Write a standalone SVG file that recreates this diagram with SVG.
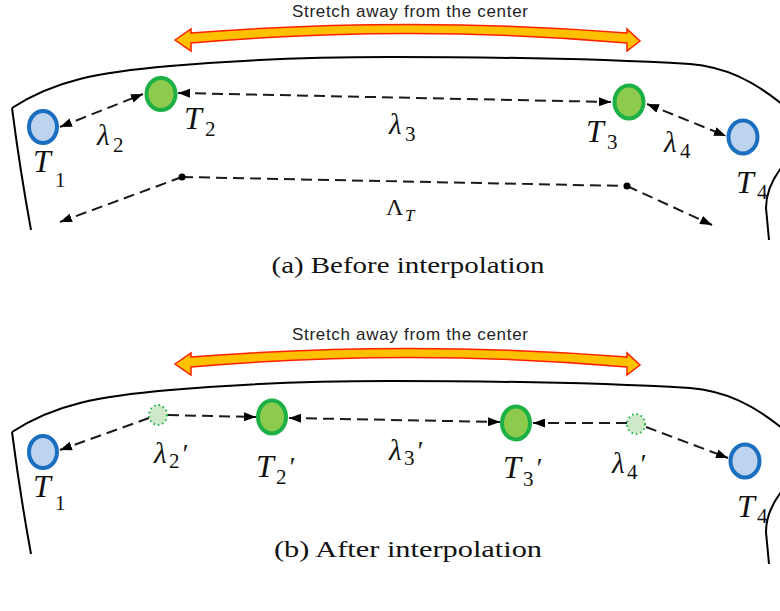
<svg xmlns="http://www.w3.org/2000/svg" width="780" height="611" viewBox="0 0 780 611">
<style>
.outline{fill:none;stroke:#000;stroke-width:2}
.dash{fill:none;stroke:#1a1a1a;stroke-width:2;stroke-dasharray:11 6}
.blue{fill:#bdd3ee;stroke:#1a6fc0;stroke-width:4}
.green{fill:#8dcb4e;stroke:#1db044;stroke-width:4}
.ghost{fill:#cfe8c8;stroke:#1db044;stroke-width:2;stroke-dasharray:1.5 3}
.stretch{fill:#ffc000;stroke:#ff2000;stroke-width:1.5}
.m{font-family:"Liberation Serif",serif;font-style:italic;fill:#111}
.big{font-size:32px}
.lam{font-size:29px}
.sub{font-family:"Liberation Serif",serif;font-style:normal;font-size:21px;fill:#111}
.pr{font-family:"Liberation Serif",serif;font-style:italic;font-size:27px;fill:#111}
.cap{font-family:"Liberation Serif",serif;font-size:24px;fill:#111}
.st{font-family:"Liberation Sans",sans-serif;font-size:17px;fill:#222}
</style>
<defs>
<marker id="ah" viewBox="0 0 12 9" refX="12" refY="4.5" markerWidth="12" markerHeight="9" markerUnits="userSpaceOnUse" orient="auto-start-reverse">
<path d="M0,0 L12,4.5 L0,9 z" fill="#000"/>
</marker>
</defs>

<!-- ===== Panel (a) ===== -->
<g id="panel-a">
<g id="stretch-a">
<text class="st" x="410" y="17" text-anchor="middle" textLength="236">Stretch away from the center</text>
<path class="stretch" d="M175,40 L191,29 L191,33 Q410,16 627,33 L627,29 L640,41 L627,51 L627,43 Q410,24 191,43 L191,51 Z"/>
</g>
<g id="outline-a">
<path class="outline" d="M12,108 C55,80 100,72 170,66 C260,58 330,57 390,57 C500,57 620,60 690,64 C725,67 752,80 782,104"/>
<path class="outline" d="M12,108 Q20,170 31,230"/>
<path class="outline" d="M781,168 C772,180 766,192 766,208 L769,240"/>
</g>
<g id="connectors-a">
<line class="dash" x1="60" y1="127" x2="143" y2="94" marker-start="url(#ah)" marker-end="url(#ah)"/>
<line class="dash" x1="178" y1="93" x2="611" y2="102" marker-start="url(#ah)" marker-end="url(#ah)"/>
<line class="dash" x1="647" y1="104" x2="726" y2="136" marker-start="url(#ah)" marker-end="url(#ah)"/>
<line class="dash" x1="182" y1="177" x2="60" y2="222" marker-end="url(#ah)"/>
<line class="dash" x1="182" y1="177" x2="627" y2="186"/>
<line class="dash" x1="627" y1="186" x2="712" y2="225" marker-end="url(#ah)"/>
<circle cx="182" cy="177" r="3.5" fill="#000"/>
<circle cx="627" cy="186" r="3.5" fill="#000"/>
<text class="m" x="386" y="215" style="font-style:normal;font-size:24px">Λ</text>
<text class="m" x="405" y="221" style="font-size:17px">T</text>
<text class="m lam" x="97" y="145">λ</text><text class="sub" x="113" y="152">2</text>
<text class="m lam" x="389" y="134">λ</text><text class="sub" x="405" y="141">3</text>
<text class="m lam" x="664" y="152">λ</text><text class="sub" x="680" y="158">4</text>
</g>
<g id="T1-a"><ellipse class="blue" cx="43" cy="127" rx="14" ry="16"/>
<text class="m big" x="33" y="172">T</text><text class="sub" x="55" y="187">1</text></g>
<g id="T2-a"><ellipse class="green" cx="161" cy="94" rx="14.5" ry="16"/>
<text class="m big" x="184" y="129">T</text><text class="sub" x="205" y="136">2</text></g>
<g id="T3-a"><ellipse class="green" cx="629" cy="102" rx="14.5" ry="16.5"/>
<text class="m big" x="586" y="142">T</text><text class="sub" x="607" y="149">3</text></g>
<g id="T4-a"><ellipse class="blue" cx="743" cy="137" rx="14.5" ry="16.5"/>
<text class="m big" x="736" y="193">T</text><text class="sub" x="757" y="199">4</text></g>
<text class="cap" x="408" y="273" text-anchor="middle" textLength="273" lengthAdjust="spacingAndGlyphs">(a) Before interpolation</text>
</g>

<!-- ===== Panel (b) ===== -->
<g id="panel-b">
<g id="stretch-b" transform="translate(0,324)">
<text class="st" x="410" y="16" text-anchor="middle" textLength="236">Stretch away from the center</text>
<path class="stretch" d="M175,40 L191,29 L191,33 Q410,16 627,33 L627,29 L640,41 L627,51 L627,43 Q410,24 191,43 L191,51 Z"/>
</g>
<g id="outline-b" transform="translate(0,324)">
<path class="outline" d="M12,108 C55,80 100,72 170,66 C260,58 330,57 390,57 C500,57 620,60 690,64 C725,67 752,80 782,104"/>
<path class="outline" d="M12,108 Q20,170 31,230"/>
<path class="outline" d="M781,168 C772,180 766,192 766,208 L769,240"/>
</g>
<g id="connectors-b">
<line class="dash" x1="149" y1="418" x2="60" y2="450" marker-end="url(#ah)"/>
<line class="dash" x1="168" y1="415" x2="256" y2="417" marker-end="url(#ah)"/>
<line class="dash" x1="289" y1="418" x2="500" y2="422" marker-start="url(#ah)" marker-end="url(#ah)"/>
<line class="dash" x1="627" y1="423" x2="533" y2="423" marker-end="url(#ah)"/>
<line class="dash" x1="646" y1="427" x2="728" y2="458" marker-end="url(#ah)"/>
</g>
<g id="lam2p"><ellipse class="ghost" cx="158" cy="415" rx="9" ry="10"/>
<text class="m lam" x="154" y="463">λ</text><text class="sub" x="169" y="468">2</text><text class="pr" x="181" y="463">′</text></g>
<g id="lam3p">
<text class="m lam" x="389" y="460">λ</text><text class="sub" x="404" y="465">3</text><text class="pr" x="416" y="460">′</text></g>
<g id="lam4p"><ellipse class="ghost" cx="636" cy="424" rx="9" ry="10"/>
<text class="m lam" x="612" y="473">λ</text><text class="sub" x="627" y="479">4</text><text class="pr" x="639" y="473">′</text></g>
<g id="T1-b"><ellipse class="blue" cx="43" cy="452" rx="14" ry="16"/>
<text class="m big" x="33" y="497">T</text><text class="sub" x="55" y="510">1</text></g>
<g id="T2p"><ellipse class="green" cx="272" cy="417" rx="14" ry="16.5"/>
<text class="m big" x="256" y="477">T</text><text class="sub" x="276" y="484">2</text><text class="pr" x="288" y="476">′</text></g>
<g id="T3p"><ellipse class="green" cx="516" cy="423" rx="14" ry="16.5"/>
<text class="m big" x="503" y="478">T</text><text class="sub" x="523" y="486">3</text><text class="pr" x="535" y="477">′</text></g>
<g id="T4-b"><ellipse class="blue" cx="745" cy="461" rx="14.5" ry="16.5"/>
<text class="m big" x="737" y="517">T</text><text class="sub" x="757" y="523">4</text></g>
<text class="cap" x="408" y="557" text-anchor="middle" textLength="268" lengthAdjust="spacingAndGlyphs">(b) After interpolation</text>
</g>
</svg>
